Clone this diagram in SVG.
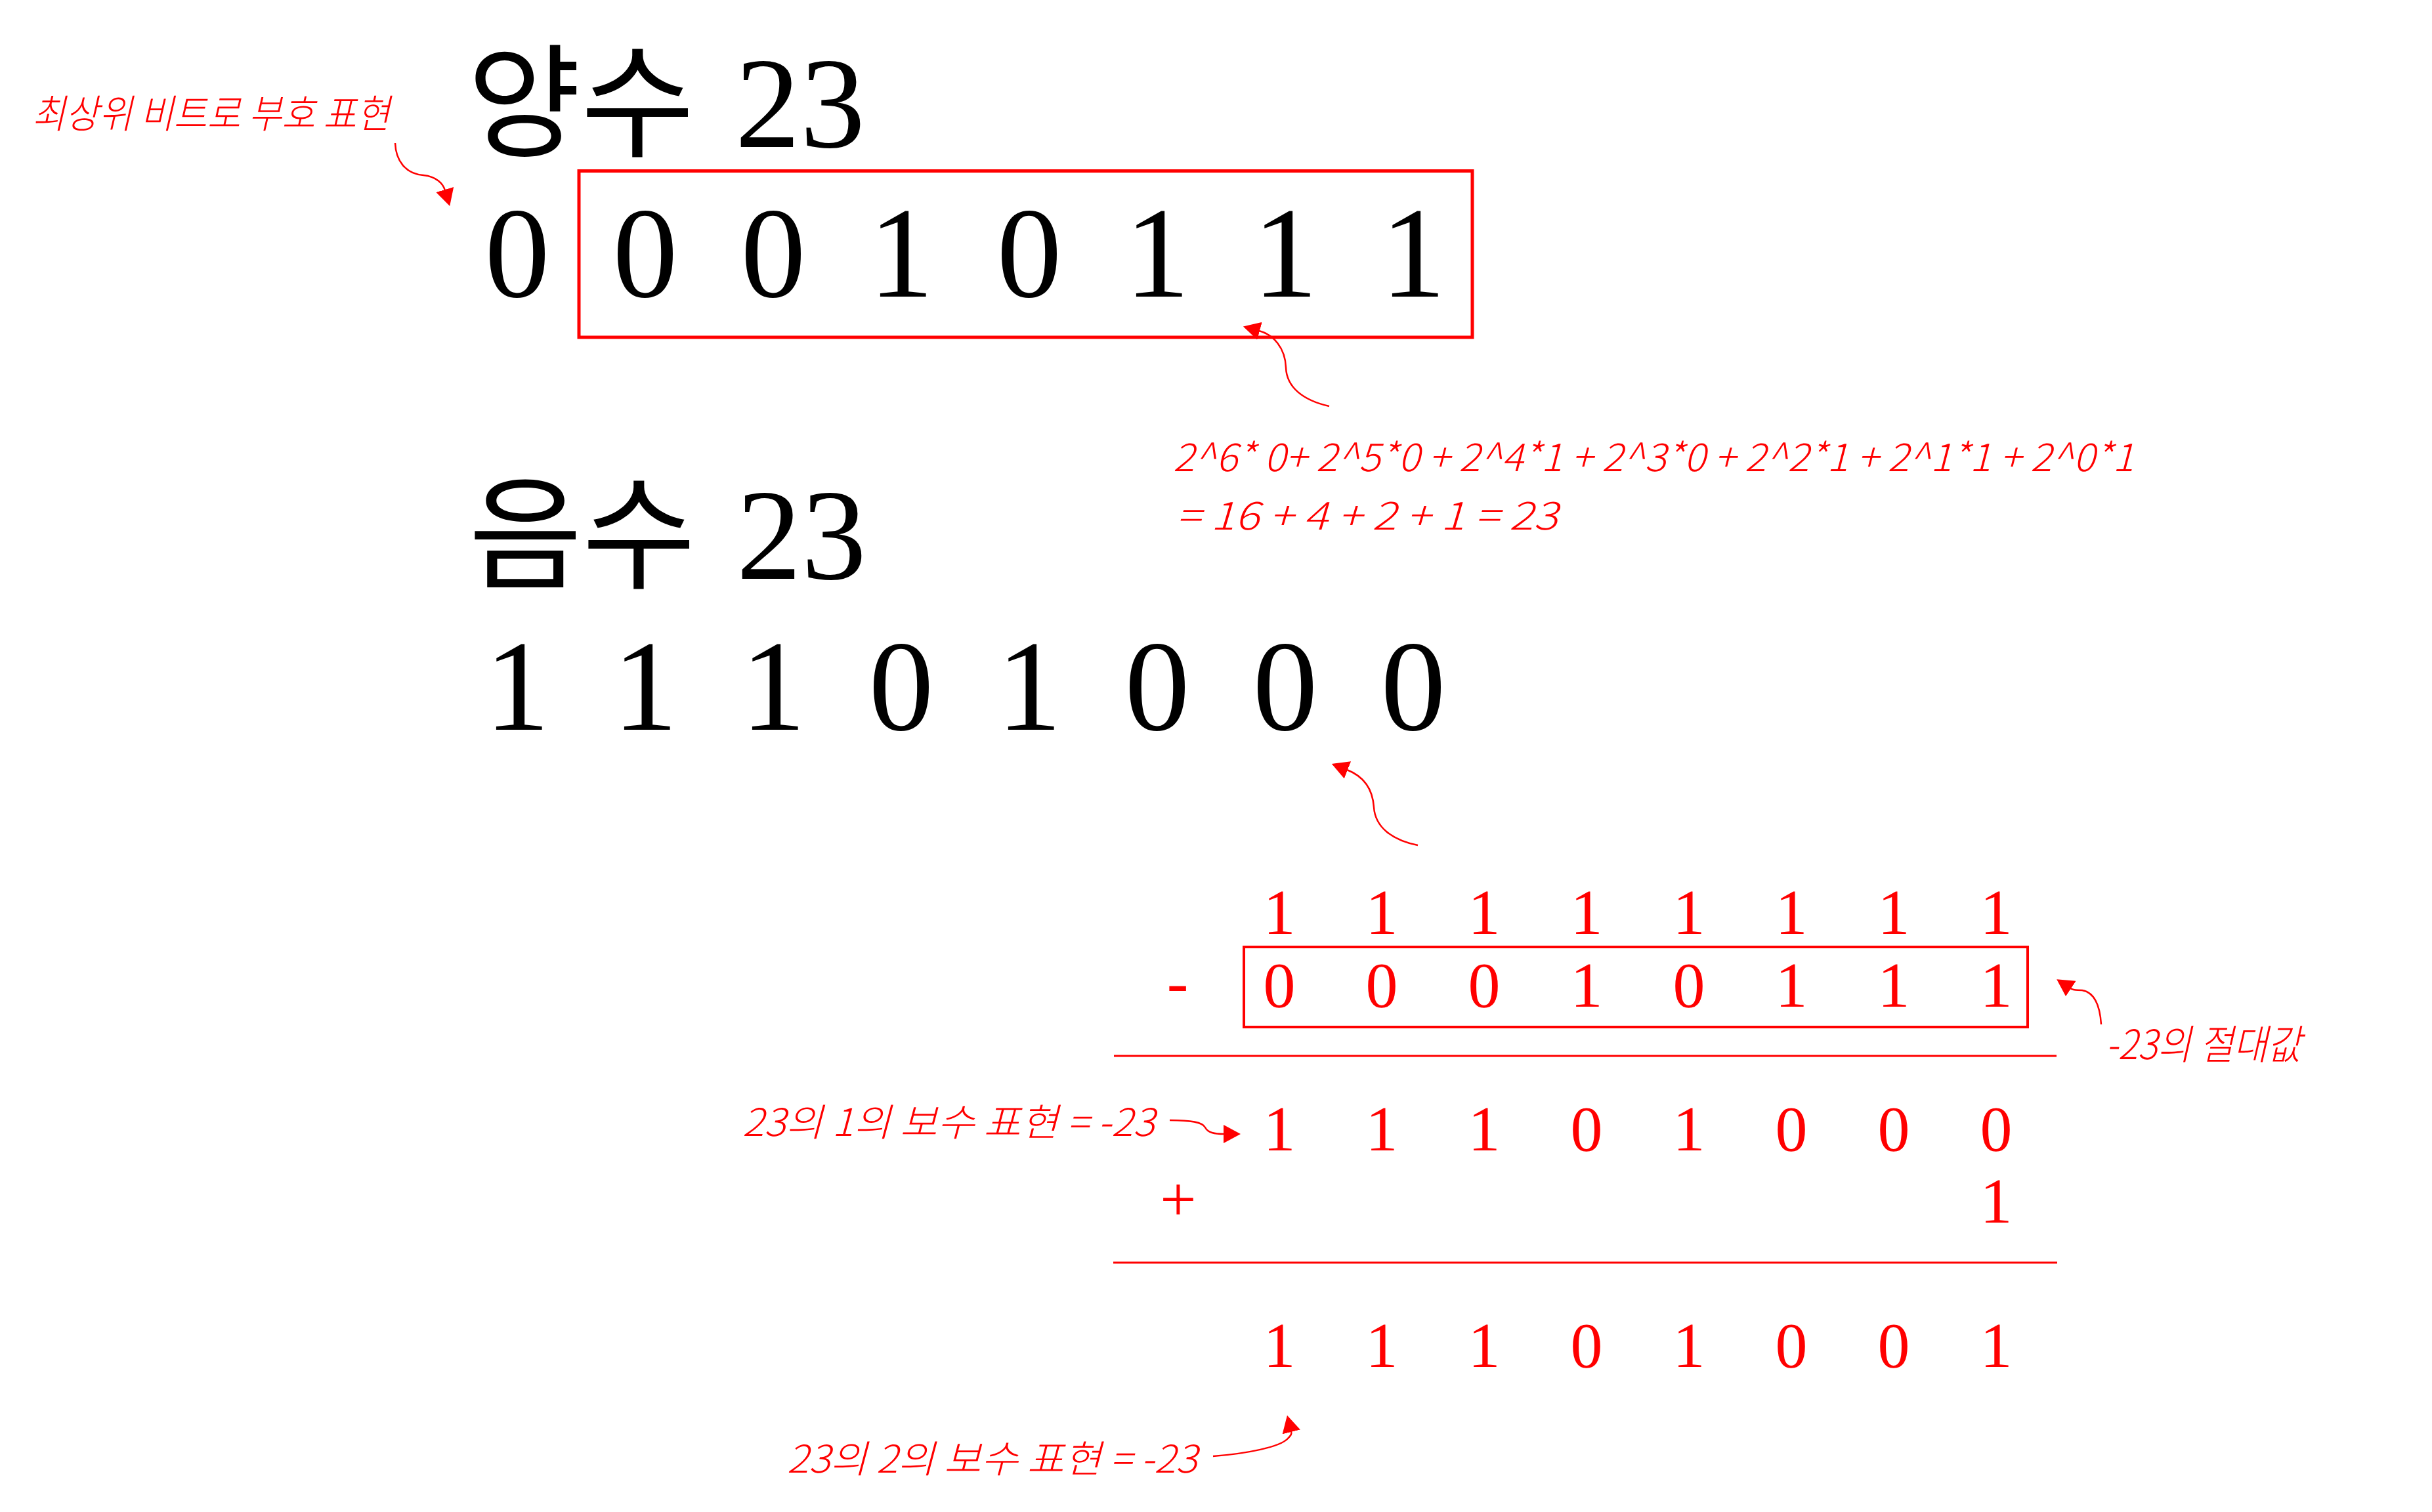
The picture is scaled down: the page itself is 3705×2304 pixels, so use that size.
<svg xmlns="http://www.w3.org/2000/svg" width="3705" height="2304" viewBox="0 0 3705 2304">
<style>
.big{font-family:"Liberation Serif","Noto Sans CJK KR",serif;font-size:198px;fill:#000}
.kr{font-family:"Noto Sans CJK KR",sans-serif;font-size:188px}
.rd{font-family:"Liberation Serif","Noto Sans CJK KR",serif;font-size:98px;fill:#ff0000;text-anchor:middle}
.note{font-family:"Noto Sans CJK KR",sans-serif;font-style:italic;font-weight:300;fill:#ff0000}
.box{fill:none;stroke:#ff0000;stroke-width:5}
.rule{stroke:#ff0000;stroke-width:3}
.conn{fill:none;stroke:#ff0000;stroke-width:2.5;marker-end:url(#ah)}
</style>
<defs>
<marker id="ah" markerUnits="userSpaceOnUse" viewBox="0 0 26 28" markerWidth="26" markerHeight="28" refX="1" refY="14" orient="auto">
<path d="M0,0 L26,14 L0,28 z" fill="#ff0000"/>
</marker>
</defs>
<rect width="3705" height="2304" fill="#ffffff"/>

<g id="positive-title">
<text class="big" y="224"><tspan class="kr" x="712">양수 </tspan><tspan x="1120">23</tspan></text>
</g>
<g id="positive-bits">
<rect class="box" x="882" y="260.5" width="1361" height="253.5"/>
<text class="big" y="452" text-anchor="middle" x="788 983 1178 1373 1568 1763 1958 2153">00010111</text>
</g>
<g id="negative-title">
<text class="big" y="882"><tspan class="kr" x="714">음수 </tspan><tspan x="1122">23</tspan></text>
</g>
<g id="negative-bits">
<text class="big" y="1112" text-anchor="middle" x="788 983 1178 1373 1568 1763 1958 2153">11101000</text>
</g>

<g id="note-msb"><text class="note" x="49" y="195" font-size="60" textLength="545" lengthAdjust="spacingAndGlyphs">최상위 비트로 부호 표현</text></g>
<g id="note-sum">
<text class="note" x="1787" y="718" font-size="59" textLength="1464" lengthAdjust="spacingAndGlyphs">2^6* 0+ 2^5*0 + 2^4*1 + 2^3*0 + 2^2*1 + 2^1*1 + 2^0*1</text>
<text class="note" x="1792" y="807" font-size="59" textLength="581" lengthAdjust="spacingAndGlyphs">= 16 + 4 + 2 + 1 = 23</text>
</g>

<g id="calc-ones"><text class="rd" y="1423" x="1949 2105 2261 2417 2573 2729 2885 3041">11111111</text></g>
<g id="calc-abs">
<rect class="box" x="1895" y="1443" width="1194" height="122" style="stroke-width:4"/>
<text class="rd" x="1794" y="1529">-</text>
<text class="rd" y="1534" x="1949 2105 2261 2417 2573 2729 2885 3041">00010111</text>
</g>
<g id="note-abs"><text class="note" x="3208" y="1614" font-size="62" textLength="298" lengthAdjust="spacingAndGlyphs">-23의 절대값</text></g>
<g id="calc-ones-complement"><text class="rd" y="1753" x="1949 2105 2261 2417 2573 2729 2885 3041">11101000</text></g>
<g id="note-ones"><text class="note" x="1131" y="1731" font-size="58" textLength="628" lengthAdjust="spacingAndGlyphs">23의 1의 보수 표현 = -23</text></g>
<g id="calc-plus-one">
<text class="rd" x="1795" y="1860" font-size="70">+</text>
<text class="rd" x="3041" y="1863">1</text>
</g>
<g id="calc-twos-complement"><text class="rd" y="2083" x="1949 2105 2261 2417 2573 2729 2885 3041">11101001</text></g>
<g id="note-twos"><text class="note" x="1199" y="2244" font-size="58" textLength="625" lengthAdjust="spacingAndGlyphs">23의 2의 보수 표현 = -23</text></g>

<g id="rules">
<line class="rule" x1="1697" y1="1609" x2="3133" y2="1609"/>
<line class="rule" x1="1696" y1="1924" x2="3134" y2="1924"/>
</g>

<g id="connectors">
<path class="conn" d="M602,218 C603,245 618,265 645,267 C665,269 675,280 678,290"/>
<path class="conn" d="M2025,619 C1985,610 1960,590 1959,560 C1958,530 1940,510 1918,504"/>
<path class="conn" d="M2160,1288 C2120,1280 2095,1260 2093,1230 C2091,1200 2075,1182 2052,1173"/>
<path class="conn" d="M3201,1561 C3199,1530 3190,1512 3172,1509 C3165,1508 3160,1510 3154,1506"/>
<path class="conn" d="M1782,1707 C1815,1707 1832,1710 1836,1718 C1840,1726 1850,1728 1865,1728"/>
<path class="conn" d="M1848,2219 C1900,2215 1950,2205 1962,2192 C1967,2187 1968,2185 1967,2181"/>
</g>
</svg>
